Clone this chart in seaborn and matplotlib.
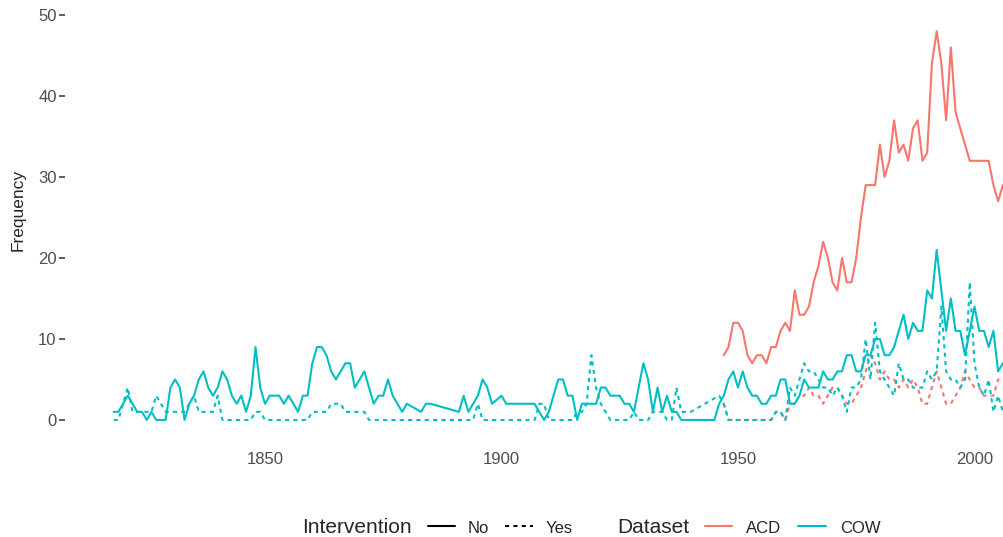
import matplotlib
matplotlib.use("Agg")
import matplotlib.pyplot as plt
import pandas as pd
import seaborn as sns
from matplotlib.lines import Line2D

ACD_RED = "#F8766D"
COW_TEAL = "#00BFC4"

# COW, no intervention
cow_no_years = (list(range(1818, 1881)) + [1883, 1884, 1885]
                + list(range(1891, 1899)) + list(range(1900, 2008)))
cow_no_counts = [
    1, 1, 2, 3, 2, 1, 1, 0, 1, 0,      # 1818-1827
    0, 0, 4, 5, 4, 0, 2, 3, 5, 6,      # 1828-1837
    4, 3, 4, 6, 5, 3, 2, 3, 1, 3,      # 1838-1847
    9, 4, 2, 3, 3, 3, 2, 3, 2, 1,      # 1848-1857
    3, 3, 7, 9, 9, 8, 6, 5, 6, 7,      # 1858-1867
    7, 4, 5, 6, 4, 2, 3, 3, 5, 3,      # 1868-1877
    2, 1, 2,                           # 1878-1880
    1, 2, 2,                           # 1883-1885
    1, 3, 1, 2, 3, 5, 4, 2,            # 1891-1898
    3, 2, 2, 2, 2, 2, 2, 2, 1, 0,      # 1900-1909
    1, 3, 5, 5, 3, 3, 0, 2, 2, 2,      # 1910-1919
    2, 4, 4, 3, 3, 3, 2, 2, 1, 4,      # 1920-1929
    7, 5, 1, 4, 1, 3, 1, 1, 0, 0,      # 1930-1939
    0, 0, 0, 0, 0, 0, 2, 3, 5, 6,      # 1940-1949
    4, 6, 4, 3, 3, 2, 2, 3, 3, 5,      # 1950-1959
    5, 2, 2, 3, 5, 4, 4, 4, 6, 5,      # 1960-1969
    5, 6, 6, 8, 8, 6, 6, 8, 8, 10,     # 1970-1979
    10, 8, 8, 9, 11, 13, 10, 12, 11, 11,  # 1980-1989
    16, 15, 21, 16, 11, 15, 11, 11, 8, 11,  # 1990-1999
    14, 11, 11, 9, 11, 6, 7, 7,        # 2000-2007
]

# COW, intervention
cow_yes_years = (list(range(1818, 1941)) + [1943]
                 + list(range(1946, 2008)))
cow_yes_counts = [
    0, 0, 2, 4, 1, 1, 1, 1, 1, 3,      # 1818-1827
    2, 1, 1, 1, 1, 1, 2, 3, 1, 1,      # 1828-1837
    1, 1, 3, 0, 0, 0, 0, 0, 0, 0,      # 1838-1847
    1, 1, 0, 0, 0, 0, 0, 0, 0, 0,      # 1848-1857
    0, 0, 1, 1, 1, 1, 2, 2, 2, 1,      # 1858-1867
    1, 1, 1, 1, 0, 0, 0, 0, 0, 0,      # 1868-1877
    0, 0, 0, 0, 0, 0, 0, 0, 0, 0,      # 1878-1887
    0, 0, 0, 0, 0, 0, 0, 2, 0, 0,      # 1888-1897
    0, 0, 0, 0, 0, 0, 0, 0, 0, 0,      # 1898-1907
    2, 2, 0, 0, 0, 0, 0, 0, 1, 1,      # 1908-1917
    2, 8, 4, 2, 1, 0, 0, 0, 0, 0,      # 1918-1927
    1, 0, 0, 0, 1, 1, 1, 0, 0, 4,      # 1928-1937
    1, 1, 1,                           # 1938-1940
    2,                                 # 1943
    3, 2, 0, 0, 0, 0, 0, 0, 0, 0,      # 1946-1955
    0, 0, 1, 1, 0, 4, 3, 5, 7, 6,      # 1956-1965
    6, 5, 4, 4, 3, 4, 3, 1, 4, 4,      # 1966-1975
    5, 10, 5, 12, 6, 5, 4, 3, 7, 5,    # 1976-1985
    5, 4, 4, 4, 6, 5, 6, 14, 6, 5,     # 1986-1995
    5, 4, 5, 17, 7, 4, 3, 5, 1, 3,     # 1996-2005
    1, 2,                              # 2006-2007
]

# ACD, no intervention
acd_years = list(range(1947, 2008))
acd_no_counts = [
    8, 9, 12, 12, 11, 8, 7, 8, 8, 7,   # 1947-1956
    9, 9, 11, 12, 11, 16, 13, 13, 14, 17,  # 1957-1966
    19, 22, 20, 17, 16, 20, 17, 17, 20, 25,  # 1967-1976
    29, 29, 29, 34, 30, 32, 37, 33, 34, 32,  # 1977-1986
    36, 37, 32, 33, 44, 48, 44, 37, 46, 38,  # 1987-1996
    36, 34, 32, 32, 32, 32, 32, 29, 27, 29,  # 1997-2006
    27,                                # 2007
]

# ACD, intervention
acd_yes_counts = [
    2, 0, 0, 0, 0, 0, 0, 0, 0, 0,      # 1947-1956
    0, 1, 1, 0, 2, 2, 3, 3, 4, 3,      # 1957-1966
    3, 2, 3, 4, 4, 3, 2, 2, 3, 4,      # 1967-1976
    6, 8, 7, 5, 6, 5, 5, 4, 5, 4,      # 1977-1986
    5, 4, 2, 2, 4, 6, 4, 2, 2, 3,      # 1987-1996
    4, 6, 5, 4, 4, 3, 3, 3, 5, 5,      # 1997-2006
    5,                                 # 2007
]

frames = [
    pd.DataFrame({"year": cow_no_years, "freq": cow_no_counts,
                  "Dataset": "COW", "Intervention": "No"}),
    pd.DataFrame({"year": cow_yes_years, "freq": cow_yes_counts,
                  "Dataset": "COW", "Intervention": "Yes"}),
    pd.DataFrame({"year": acd_years, "freq": acd_no_counts,
                  "Dataset": "ACD", "Intervention": "No"}),
    pd.DataFrame({"year": acd_years, "freq": acd_yes_counts,
                  "Dataset": "ACD", "Intervention": "Yes"}),
]
df = pd.concat(frames, ignore_index=True)

sns.set_style("white")
plt.rcParams["font.family"] = ["Liberation Sans", "DejaVu Sans"]

W, H = 1004, 537
fig = plt.figure(figsize=(W / 100, H / 100), dpi=100)
ax = fig.add_axes([65 / W, 1 - 439.4 / H, (W - 65) / W, 427.6 / H])

sns.lineplot(data=df, x="year", y="freq", hue="Dataset", style="Intervention",
             hue_order=["ACD", "COW"], style_order=["No", "Yes"],
             palette={"ACD": ACD_RED, "COW": COW_TEAL},
             dashes={"No": "", "Yes": (2, 2)},
             estimator=None, linewidth=1.5, legend=False, ax=ax)

ax.set_xlim(1807.72, 2006.24)
ax.set_ylim(-2.4, 50.4)
ax.set_xticks([1850, 1900, 1950, 2000])
ax.set_yticks([0, 10, 20, 30, 40, 50])
for s in ax.spines.values():
    s.set_visible(False)
ax.tick_params(axis="x", length=0, pad=9, labelsize=12, labelcolor="#4D4D4D")
ax.tick_params(axis="y", length=4, width=1.1, color="#333333", pad=2,
               labelsize=12, labelcolor="#4D4D4D", left=True)
ax.set_xlabel("")
ax.set_ylabel("")
fig.text(18 / W, 1 - 210 / H, "Frequency", fontsize=12.5, rotation=90,
         ha="center", va="center")

# legend along the bottom, ggplot style
ty = 1 - 533 / H
ly = 1 - 526 / H
def legend_line(x0, x1, color, dashed=False):
    ln = Line2D([x0 / W, x1 / W], [ly, ly], transform=fig.transFigure,
                color=color, lw=1.5)
    if dashed:
        ln.set_dashes((2, 2))
    fig.add_artist(ln)

fig.text(302 / W, ty, "Intervention", fontsize=15, va="baseline")
legend_line(428, 455, "black")
fig.text(468 / W, ty, "No", fontsize=12, va="baseline")
legend_line(505, 533, "black", dashed=True)
fig.text(546 / W, ty, "Yes", fontsize=12, va="baseline")
fig.text(617 / W, ty, "Dataset", fontsize=15, va="baseline")
legend_line(705, 732, ACD_RED)
fig.text(746 / W, ty, "ACD", fontsize=12, va="baseline")
legend_line(798, 826, COW_TEAL)
fig.text(840 / W, ty, "COW", fontsize=12, va="baseline")

fig.savefig("out.png", dpi=100)
